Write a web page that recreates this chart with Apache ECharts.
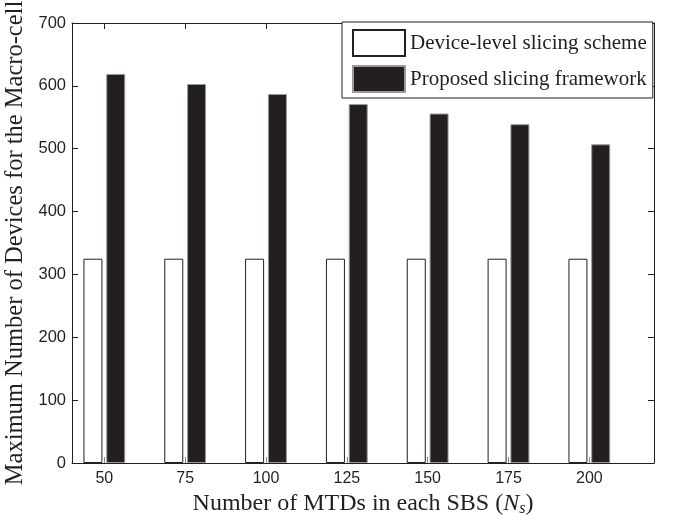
<!DOCTYPE html>
<html>
<head>
<meta charset="utf-8">
<script src="https://cdn.jsdelivr.net/npm/echarts@6/dist/echarts.min.js"></script>
<style>
html,body{margin:0;padding:0;background:#fff;}
#chart{width:674px;height:517px;}
</style>
</head>
<body>
<div id="chart"></div>
<script>
// Data
var categories = [50, 75, 100, 125, 150, 175, 200];
var deviceLevel = [325, 325, 325, 325, 325, 325, 325];
var proposed = [619, 603, 587, 571, 556, 539, 507];
var yTicks = [0, 100, 200, 300, 400, 500, 600, 700];
var seriesNames = ['Device-level slicing scheme', 'Proposed slicing framework'];

function pairs(vals) {
  return categories.map(function (c, i) { return [c, vals[i]]; });
}

var ink = '#231f20';
var serif = 'Liberation Serif';
var sans = 'Liberation Sans';

var chart = echarts.init(document.getElementById('chart'), null, {renderer: 'canvas'});
var xAxisBase = {
  type: 'value', min: 40, max: 220,
  axisLine: {show: true, onZero: false, lineStyle: {color: ink, width: 1}},
  splitLine: {show: false}
};
var yAxisBase = {
  type: 'value', min: 0, max: 700, interval: 100,
  axisLine: {show: true, onZero: false, lineStyle: {color: ink, width: 1}},
  splitLine: {show: false}
};
chart.setOption({
  animation: false,
  backgroundColor: '#fff',
  grid: {left: 72, right: 20, top: 23, bottom: 54, containLabel: false, outerBoundsMode: 'none'},
  legend: {
    orient: 'vertical', left: 342, top: 22,
    data: seriesNames,
    icon: 'rect', itemWidth: 52, itemHeight: 26, itemGap: 8,
    padding: [7, 6, 5, 10],
    backgroundColor: '#fff', borderColor: ink, borderWidth: 1, borderRadius: 0,
    textStyle: {fontFamily: serif, fontSize: 21, color: ink, lineHeight: 26},
    z: 10
  },
  xAxis: [
    Object.assign({}, xAxisBase, {
      position: 'bottom',
      name: 'Number of MTDs in each SBS ({i|N}{sub|s})',
      nameLocation: 'middle', nameGap: 21,
      nameTextStyle: {
        fontFamily: serif, fontSize: 24, color: ink,
        rich: {
          i: {fontFamily: serif, fontStyle: 'italic', fontSize: 24, color: ink},
          sub: {fontFamily: serif, fontStyle: 'italic', fontSize: 16, color: ink, verticalAlign: 'bottom', padding: [10, 0, 0, 0]}
        }
      },
      axisTick: {show: true, inside: true, length: 6, customValues: categories, lineStyle: {color: '#888'}},
      axisLabel: {show: true, margin: 8, customValues: categories, fontFamily: sans, fontSize: 16, color: ink}
    }),
    Object.assign({}, xAxisBase, {
      position: 'top',
      axisTick: {show: true, inside: true, length: 6, customValues: categories, lineStyle: {color: ink}},
      axisLabel: {show: false}
    })
  ],
  yAxis: [
    Object.assign({}, yAxisBase, {
      position: 'left',
      name: 'Maximum Number of Devices for the Macro-cell',
      nameLocation: 'middle', nameGap: 39, nameRotate: 90,
      nameTextStyle: {fontFamily: serif, fontSize: 24.5, color: ink},
      axisTick: {show: true, inside: true, length: 6, lineStyle: {color: ink}},
      axisLabel: {show: true, margin: 6, fontFamily: sans, fontSize: 16.5, color: ink}
    }),
    Object.assign({}, yAxisBase, {
      position: 'right',
      axisTick: {show: true, inside: true, length: 6, lineStyle: {color: ink}},
      axisLabel: {show: false}
    })
  ],
  series: [
    {
      name: seriesNames[0], type: 'bar', xAxisIndex: 0, yAxisIndex: 0,
      data: pairs(deviceLevel),
      barWidth: 19, barGap: '20%',
      itemStyle: {color: '#ffffff', borderColor: ink, borderWidth: 1}
    },
    {
      name: seriesNames[1], type: 'bar', xAxisIndex: 0, yAxisIndex: 0,
      data: pairs(proposed),
      barWidth: 19, barGap: '20%',
      itemStyle: {color: ink, borderColor: '#9a9a9a', borderWidth: 1}
    }
  ]
});
</script>
</body>
</html>
